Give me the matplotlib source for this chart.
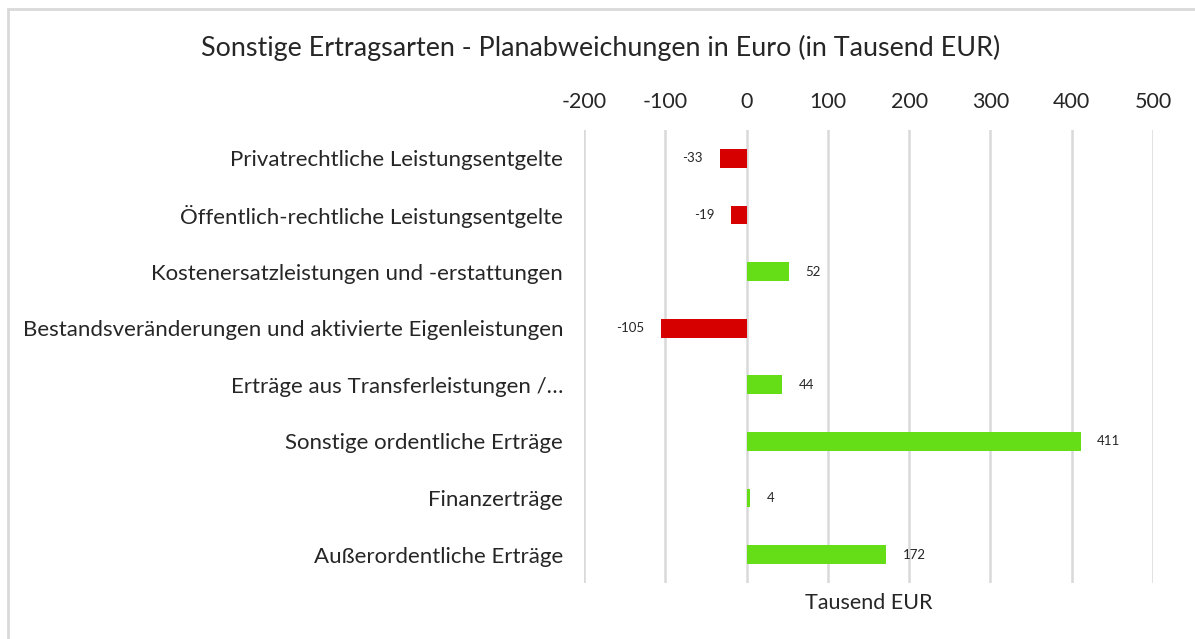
import matplotlib.pyplot as plt
from matplotlib.patches import Rectangle

plt.rcParams['font.family'] = ['Lato', 'DejaVu Sans']

categories = [
    "Privatrechtliche Leistungsentgelte",
    "Öffentlich-rechtliche Leistungsentgelte",
    "Kostenersatzleistungen und -erstattungen",
    "Bestandsveränderungen und aktivierte Eigenleistungen",
    "Erträge aus Transferleistungen /…",
    "Sonstige ordentliche Erträge",
    "Finanzerträge",
    "Außerordentliche Erträge",
]
values = [-33, -19, 52, -105, 44, 411, 4, 172]
ticks = [-200, -100, 0, 100, 200, 300, 400, 500]

red = "#D60000"
green = "#65DD17"
grid_col = "#D9D9D9"

fig = plt.figure(figsize=(11.95, 6.39), dpi=100)
ax = fig.add_axes([584 / 1195, 1 - 583 / 639, (1153 - 584) / 1195, (583 - 130) / 639])

ypos = list(range(len(categories)))
colors = [red if v < 0 else green for v in values]
ax.barh(ypos, values, height=0.33, color=colors, zorder=3)

for y, v in zip(ypos, values):
    ax.annotate(str(v), (v, y), xytext=(12 if v >= 0 else -12, 0),
                textcoords="offset points", ha="left" if v >= 0 else "right",
                va="center", fontsize=9.5, color="#262626")

ax.set_xlim(-200, 500)
ax.set_ylim(len(categories) - 0.5, -0.5)
ax.set_xticks(ticks)
ax.set_xticklabels([str(t) for t in ticks])
ax.xaxis.tick_top()
ax.tick_params(axis="x", length=0, pad=13, labelsize=15.5, labelcolor="#262626")
ax.set_yticks(ypos)
ax.set_yticklabels(categories)
ax.tick_params(axis="y", length=0, pad=15, labelsize=16, labelcolor="#262626")
ax.grid(axis="x", color=grid_col, linewidth=1.8, zorder=0)
ax.grid(axis="y", visible=False)
for s in ax.spines.values():
    s.set_visible(False)

ax.set_xlabel("Tausend EUR", fontsize=15.5, color="#262626", labelpad=7)

fig.text(0.503, 1 - 48 / 639, "Sonstige Ertragsarten - Planabweichungen in Euro (in Tausend EUR)",
         ha="center", va="center", fontsize=19.4, color="#262626")

fig.patches.append(Rectangle((8 / 1195, -0.05), 1.2, 1 - 9 / 639 + 0.05,
                             transform=fig.transFigure, fill=False,
                             edgecolor=grid_col, linewidth=2))

fig.savefig("out.png", dpi=100)
